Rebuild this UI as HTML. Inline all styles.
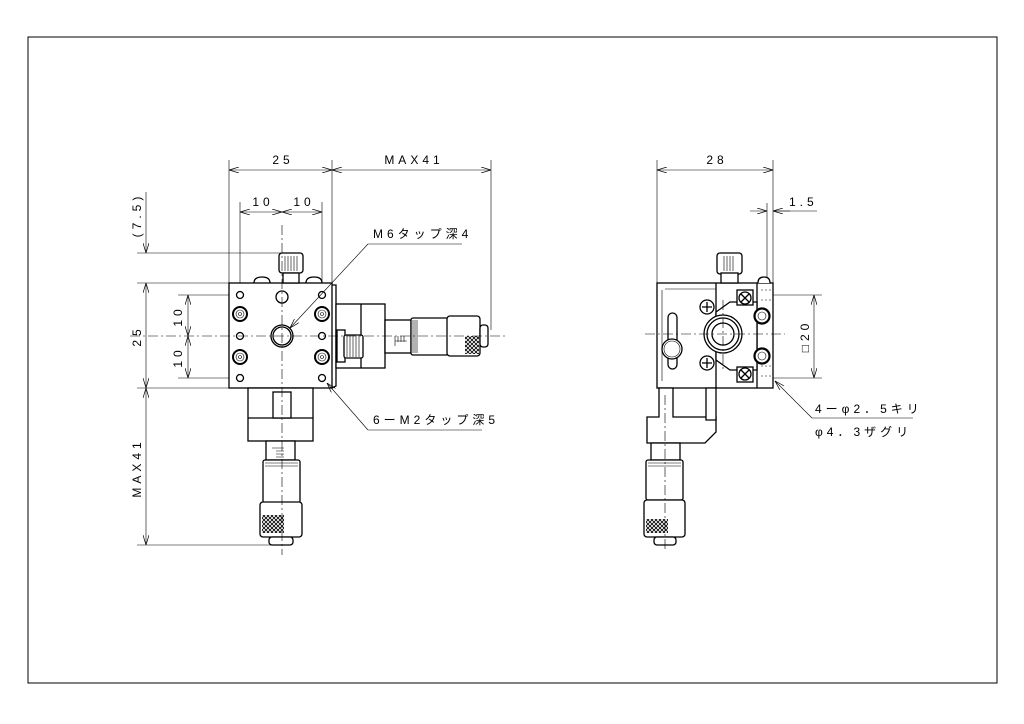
<!DOCTYPE html>
<html><head><meta charset="utf-8"><style>
html,body{margin:0;padding:0;background:#fff;}
svg{display:block;}
text{font-family:"Liberation Sans","Noto Sans CJK JP",sans-serif;font-size:12px;fill:#000;letter-spacing:4px;}
.m{text-anchor:middle;}
.t{stroke:#000;stroke-width:0.6;fill:none;}
.k{stroke:#000;stroke-width:1.3;fill:none;}
.kw{stroke:#000;stroke-width:1.3;fill:#fff;}
.c{stroke:#000;stroke-width:0.6;fill:none;stroke-dasharray:10 3 2 3;}
.h{stroke:#000;stroke-width:0.6;fill:none;stroke-dasharray:2 2;}
</style></head><body>
<svg width="1024" height="724" viewBox="0 0 1024 724" xmlns="http://www.w3.org/2000/svg">
<defs>
<marker id="a" markerWidth="10" markerHeight="6" refX="10" refY="3" orient="auto-start-reverse" markerUnits="userSpaceOnUse"><path d="M0,0 L10,3 L0,6" fill="none" stroke="#000" stroke-width="0.7"/></marker>
<pattern id="knurl" width="4" height="4" patternUnits="userSpaceOnUse"><rect width="4" height="4" fill="#fff"/><path d="M0,0L4,4M4,0L0,4" stroke="#000" stroke-width="0.8"/></pattern>
</defs>
<rect x="28" y="37" width="969" height="646" fill="none" stroke="#000" stroke-width="1"/>

<!-- ============ LEFT VIEW ============ -->
<line class="t" x1="229" y1="160" x2="229" y2="283"/>
<line class="t" x1="332" y1="160" x2="332" y2="283"/>
<line class="t" x1="491" y1="160" x2="491" y2="330"/>
<line class="t" x1="229" y1="170" x2="332" y2="170" marker-start="url(#a)" marker-end="url(#a)"/>
<line class="t" x1="332" y1="170" x2="491" y2="170" marker-start="url(#a)" marker-end="url(#a)"/>
<text class="m" x="283" y="164">25</text>
<text class="m" x="414" y="164">MAX41</text>
<line class="t" x1="240" y1="202" x2="240" y2="290"/>
<line class="t" x1="322" y1="202" x2="322" y2="290"/>
<line class="t" x1="240" y1="212" x2="282" y2="212" marker-start="url(#a)" marker-end="url(#a)"/>
<line class="t" x1="282" y1="212" x2="322" y2="212" marker-start="url(#a)" marker-end="url(#a)"/>
<text class="m" x="263" y="206">10</text>
<text class="m" x="304" y="206">10</text>
<line class="t" x1="137" y1="253" x2="290" y2="253"/>
<line class="t" x1="137" y1="283" x2="229" y2="283"/>
<line class="t" x1="137" y1="388" x2="229" y2="388"/>
<line class="t" x1="137" y1="545" x2="275" y2="545"/>
<line class="t" x1="146" y1="192" x2="146" y2="253" marker-end="url(#a)"/>
<line class="t" x1="146" y1="283" x2="146" y2="388" marker-start="url(#a)" marker-end="url(#a)"/>
<line class="t" x1="146" y1="388" x2="146" y2="545" marker-start="url(#a)" marker-end="url(#a)"/>
<text class="m" transform="translate(141,215) rotate(-90)">(7.5)</text>
<text class="m" transform="translate(141,336) rotate(-90)">25</text>
<text class="m" transform="translate(141,468) rotate(-90)">MAX41</text>
<line class="t" x1="178" y1="295" x2="240" y2="295"/>
<line class="t" x1="178" y1="378" x2="240" y2="378"/>
<line class="t" x1="188" y1="295" x2="188" y2="336" marker-start="url(#a)" marker-end="url(#a)"/>
<line class="t" x1="188" y1="336" x2="188" y2="378" marker-start="url(#a)" marker-end="url(#a)"/>
<text class="m" transform="translate(182,316) rotate(-90)">10</text>
<text class="m" transform="translate(182,357) rotate(-90)">10</text>

<rect class="kw" x="229" y="283" width="103" height="105"/>
<path class="k" d="M332,285 L336,285 L336,386 L332,388"/>
<path class="k" d="M254,283 Q254,277 262,277 Q270,277 270,283"/>
<path class="k" d="M306,283 Q306,277 314,277 Q322,277 322,283"/>
<rect class="kw" x="279" y="253" width="24" height="20" rx="3"/>
<rect class="kw" x="283" y="273" width="16" height="10"/>
<path class="t" d="M285,256v15M288,256v15M291,256v15M294,256v15M297,256v15"/>
<g class="k">
<circle cx="240" cy="295" r="3.5"/><circle cx="322" cy="295" r="3.5"/>
<circle cx="240" cy="336" r="3.5"/><circle cx="322" cy="336" r="3.5"/>
<circle cx="240" cy="378" r="3.5"/><circle cx="322" cy="378" r="3.5"/>
<circle cx="282" cy="297" r="6"/>
<circle cx="282" cy="336" r="11"/><circle cx="282" cy="336" r="9"/>
</g>
<g stroke="#000" fill="none"><circle cx="240" cy="314" r="7" stroke-width="2"/><circle cx="322" cy="314" r="7" stroke-width="2"/><circle cx="240" cy="357" r="7" stroke-width="2"/><circle cx="322" cy="357" r="7" stroke-width="2"/></g>
<g class="t"><circle cx="240" cy="314" r="4"/><circle cx="322" cy="314" r="4"/><circle cx="240" cy="357" r="4"/><circle cx="322" cy="357" r="4"/>
<circle cx="240" cy="314" r="1.5"/><circle cx="322" cy="314" r="1.5"/><circle cx="240" cy="357" r="1.5"/><circle cx="322" cy="357" r="1.5"/></g>
<rect class="kw" x="336" y="304" width="49" height="64"/>
<line class="k" x1="361" y1="304" x2="361" y2="368"/>
<rect class="kw" x="337" y="330" width="8" height="32"/>
<rect class="kw" x="344" y="335" width="19" height="23" rx="2"/>
<path class="t" d="M347,336v21M350,336v21M353,336v21M356,336v21M359,336v21"/>
<rect class="kw" x="385" y="320" width="26" height="33"/>
<path class="t" d="M395,336v10M398,336v6M401,336v6M404,336v6M395,341h12"/>
<rect class="kw" x="411" y="318" width="37" height="37" rx="2"/>
<path class="t" d="M413,320v33M415,320v33M417,320v33"/>
<rect class="kw" x="447" y="316" width="33" height="40" rx="3"/>
<rect x="465" y="336" width="14" height="18" fill="url(#knurl)"/>
<rect class="kw" x="480" y="325" width="8" height="22" rx="3"/>
<rect class="kw" x="248" y="388" width="65" height="53"/>
<line class="k" x1="248" y1="418" x2="313" y2="418"/>
<rect class="kw" x="273" y="392" width="18" height="26"/>
<rect class="kw" x="266" y="441" width="29" height="19"/>
<path class="t" d="M272,448h12M276,451h8M276,454h8M276,457h8"/>
<rect class="kw" x="263" y="460" width="37" height="43" rx="2"/>
<path class="t" d="M265,463h33M265,466h33"/>
<rect class="kw" x="260" y="502" width="42" height="35" rx="3"/>
<rect x="262" y="515" width="22" height="18" fill="url(#knurl)"/>
<rect class="kw" x="269" y="537" width="24" height="8" rx="3"/>
<line class="c" x1="130" y1="336" x2="505" y2="336"/>
<line class="c" x1="282" y1="225" x2="282" y2="555"/>
<text x="373" y="238">M6タップ深4</text>
<line class="t" x1="368" y1="244" x2="462" y2="244"/>
<line class="t" x1="368" y1="244" x2="290" y2="328" marker-end="url(#a)"/>
<text x="373" y="424">6ーM2タップ深5</text>
<line class="t" x1="368" y1="430" x2="482" y2="430"/>
<line class="t" x1="368" y1="430" x2="327" y2="383" marker-end="url(#a)"/>

<!-- ============ RIGHT VIEW ============ -->
<line class="t" x1="657" y1="160" x2="657" y2="283"/>
<line class="t" x1="773" y1="160" x2="773" y2="283"/>
<line class="t" x1="657" y1="170" x2="773" y2="170" marker-start="url(#a)" marker-end="url(#a)"/>
<text class="m" x="717" y="164">28</text>
<line class="t" x1="767" y1="203" x2="767" y2="280"/>
<line class="t" x1="750" y1="211" x2="767" y2="211" marker-end="url(#a)"/>
<line class="t" x1="790" y1="211" x2="773" y2="211" marker-end="url(#a)"/>
<line class="t" x1="773" y1="211" x2="817" y2="211"/>
<text x="789" y="206">1.5</text>
<line class="t" x1="773" y1="295" x2="822" y2="295"/>
<line class="t" x1="773" y1="378" x2="822" y2="378"/>
<line class="t" x1="814" y1="295" x2="814" y2="378" marker-start="url(#a)" marker-end="url(#a)"/>
<text class="m" transform="translate(809,336) rotate(-90)">□20</text>

<rect class="kw" x="657" y="283" width="116" height="105"/>
<path class="t" d="M662,290 L662,381 M665,289 L716,289"/>
<line class="k" x1="716" y1="283" x2="716" y2="388"/>
<line class="k" x1="757" y1="283" x2="757" y2="388"/>
<path class="h" d="M761,290h10M761,300h10M761,366h10M761,376h10"/>
<rect class="kw" x="717" y="253" width="25" height="21" rx="3"/>
<rect class="kw" x="721" y="273" width="17" height="10"/>
<path class="t" d="M724,256v15M727,256v15M730,256v15M733,256v15"/>
<path class="kw" d="M758,283 Q758,277 764,277 Q770,277 770,283"/>
<path class="kw" d="M716,312 L730,302 L757,302 L757,370 L730,370 L716,360 Z"/>
<rect class="kw" x="737" y="290" width="16" height="15"/>
<rect class="kw" x="737" y="367" width="16" height="15"/>
<circle class="kw" cx="745" cy="298" r="6"/><circle class="kw" cx="745" cy="374" r="6"/>
<path class="k" d="M741,294l8,8M749,294l-8,8M741,370l8,8M749,370l-8,8"/>
<circle class="kw" cx="707" cy="307" r="7"/><circle class="kw" cx="707" cy="363" r="7"/>
<path class="k" d="M702,307h10M707,302v10M702,363h10M707,358v10"/>
<circle cx="762" cy="316" r="7.5" fill="#fff" stroke="#000" stroke-width="2.2"/><circle cx="762" cy="356" r="7.5" fill="#fff" stroke="#000" stroke-width="2.2"/>
<circle class="t" cx="762" cy="316" r="4"/><circle class="t" cx="762" cy="356" r="4"/>
<circle class="kw" cx="723" cy="334" r="19"/><circle class="k" cx="723" cy="334" r="16"/><circle class="k" cx="723" cy="334" r="11"/>
<rect class="kw" x="668" y="313" width="9" height="56" rx="4.5"/>
<circle class="kw" cx="672" cy="349" r="10"/><circle class="t" cx="672" cy="349" r="8"/>
<path class="kw" d="M659,388 L673,388 L673,417 L716,417 L716,432 L705,443 L647,443 L647,417 L659,417 Z"/>
<path class="kw" d="M706,388 L716,388 L716,420 L706,420 Z" />
<rect class="kw" x="651" y="443" width="29" height="17"/>
<rect class="kw" x="646" y="460" width="37" height="40" rx="2"/>
<path class="t" d="M648,463h33M648,466h33"/>
<rect class="kw" x="644" y="500" width="41" height="37" rx="3"/>
<rect x="646" y="519" width="22" height="14" fill="url(#knurl)"/>
<rect class="kw" x="654" y="537" width="22" height="8" rx="3"/>
<line class="c" x1="645" y1="334" x2="785" y2="334"/>
<line class="c" x1="665" y1="395" x2="665" y2="552"/>
<line class="c" x1="723" y1="300" x2="723" y2="370"/>
<text x="815" y="413">4ーφ2．5キリ</text>
<line class="t" x1="812" y1="418" x2="913" y2="418"/>
<text x="815" y="436">φ4．3ザグリ</text>
<line class="t" x1="812" y1="418" x2="775" y2="381" marker-end="url(#a)"/>
</svg>
</body></html>
